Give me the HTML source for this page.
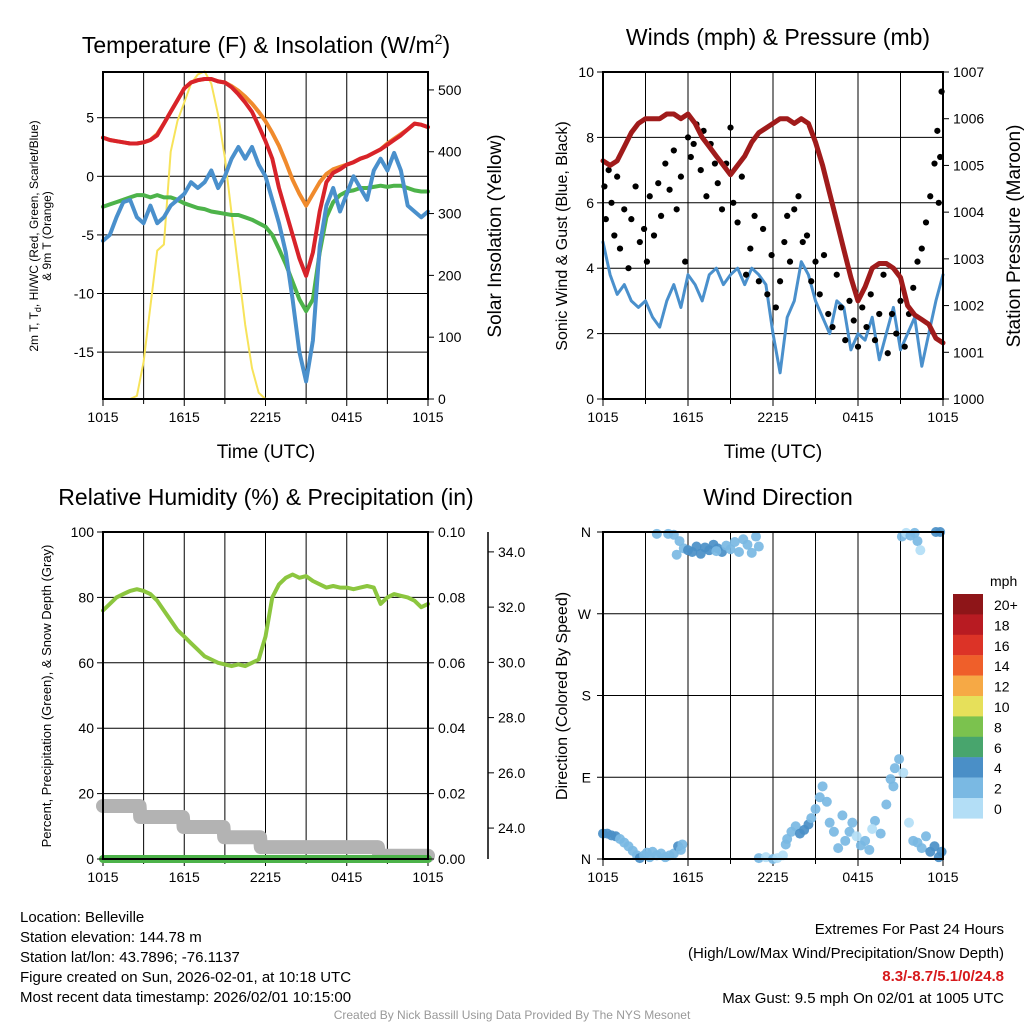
<!DOCTYPE html>
<html><head><meta charset="utf-8"><style>
html,body{margin:0;padding:0;background:#fff}
svg{display:block;font-family:"Liberation Sans",Arial,sans-serif}
</style></head><body>
<svg id="c" width="1024" height="1024" viewBox="0 0 1024 1024" xmlns="http://www.w3.org/2000/svg">
<rect x="0" y="0" width="1024" height="1024" fill="#fff"/>
<text x="266" y="53" font-size="23" text-anchor="middle">Temperature (F) &amp; Insolation (W/m<tspan font-size="14" dy="-9">2</tspan><tspan dy="9">)</tspan></text>
<text x="778" y="45" font-size="23" text-anchor="middle">Winds (mph) &amp; Pressure (mb)</text>
<text x="266" y="505" font-size="23" text-anchor="middle">Relative Humidity (%) &amp; Precipitation (in)</text>
<text x="778" y="505" font-size="23" text-anchor="middle">Wind Direction</text>
<text x="266" y="458" font-size="19" text-anchor="middle">Time (UTC)</text>
<text x="773" y="458" font-size="19" text-anchor="middle">Time (UTC)</text>
<text transform="translate(38,236) rotate(-90)" font-size="12" text-anchor="middle">2m T, T<tspan font-size="9" dy="3">d</tspan><tspan dy="-3">,  HI/WC (Red, Green, Scarlet/Blue)</tspan></text>
<text transform="translate(51,236) rotate(-90)" font-size="12" text-anchor="middle">&amp; 9m T (Orange)</text>
<text transform="translate(501,236) rotate(-90)" font-size="19" text-anchor="middle">Solar Insolation (Yellow)</text>
<text transform="translate(567,236) rotate(-90)" font-size="16" text-anchor="middle">Sonic Wind &amp; Gust (Blue, Black)</text>
<text transform="translate(1020,236) rotate(-90)" font-size="19" text-anchor="middle">Station Pressure (Maroon)</text>
<text transform="translate(51,696) rotate(-90)" font-size="13" text-anchor="middle">Percent, Precipitation (Green), &amp; Snow Depth (Gray)</text>
<text transform="translate(567,696) rotate(-90)" font-size="16" text-anchor="middle">Direction (Colored By Speed)</text>
<g font-size="15">
<text x="20" y="922">Location: Belleville</text>
<text x="20" y="942">Station elevation: 144.78 m</text>
<text x="20" y="962">Station lat/lon: 43.7896; -76.1137</text>
<text x="20" y="982">Figure created on Sun, 2026-02-01, at 10:18 UTC</text>
<text x="20" y="1002">Most recent data timestamp: 2026/02/01 10:15:00</text>
</g>
<g font-size="15" text-anchor="end">
<text x="1004" y="934">Extremes For Past 24 Hours</text>
<text x="1004" y="958">(High/Low/Max Wind/Precipitation/Snow Depth)</text>
<text x="1004" y="981" fill="#d7191c" font-weight="bold">8.3/-8.7/5.1/0/24.8</text>
<text x="1004" y="1003">Max Gust: 9.5 mph On 02/01 at 1005 UTC</text>
</g>
<text x="512" y="1019" font-size="12" fill="#999" text-anchor="middle">Created By Nick Bassill Using Data Provided By The NYS Mesonet</text>
</svg>
<script>
// ---------- data ----------
const halfHours = [0,0.5,1,1.5,2,2.5,3,3.5,4,4.5,5,5.5,6,6.5,7,7.5,8,8.5,9,9.5,10,10.5,11,11.5,12,12.5,13,13.5,14,14.5,15,15.5,16,16.5,17,17.5,18,18.5,19,19.5,20,20.5,21,21.5,22,22.5,23,23.5,24];
const xTickLabels = ["1015","1615","2215","0415","1015"];
const tempRed = [3.3,3.1,3.0,2.9,2.8,2.8,2.9,3.1,3.5,4.5,5.5,6.5,7.5,8.0,8.2,8.3,8.3,8.1,8.0,7.6,7.0,6.3,5.5,4.3,3.0,1.5,-1.0,-3.0,-5.0,-7.0,-8.5,-6.5,-3.0,-0.5,0.3,0.6,1.0,1.2,1.5,1.7,2.0,2.3,2.7,3.1,3.5,4.0,4.5,4.4,4.2];
const tempOrange = [3.3,3.1,3.0,2.9,2.8,2.8,2.9,3.1,3.6,4.5,5.5,6.5,7.5,8.0,8.2,8.3,8.3,8.1,8.0,7.7,7.3,6.8,6.2,5.5,4.7,3.7,2.6,1.2,-0.3,-1.5,-2.5,-1.5,-0.5,0.2,0.6,0.8,1.0,1.2,1.5,1.7,2.0,2.3,2.8,3.2,3.6,4.0,4.5,4.4,4.2];
const tempDew = [-2.6,-2.4,-2.2,-2.0,-1.8,-1.6,-1.6,-1.8,-1.6,-1.8,-1.8,-2.0,-2.3,-2.5,-2.7,-2.8,-3.0,-3.1,-3.2,-3.3,-3.3,-3.5,-3.7,-4.0,-4.3,-5.0,-6.2,-7.5,-9.0,-10.5,-11.5,-10.5,-6.5,-3.5,-2.2,-1.6,-1.3,-1.2,-1.0,-1.0,-0.9,-0.8,-0.9,-0.8,-0.8,-1.0,-1.2,-1.3,-1.3];
const tempWC = [-5.5,-5.0,-3.5,-2.2,-2.0,-3.5,-4.0,-2.5,-4.0,-3.5,-2.5,-2.0,-1.5,-0.5,-1.0,-0.5,0.5,-1.0,0.0,1.5,2.5,1.5,2.5,1.0,0.0,-2.0,-4.0,-6.5,-10.5,-15.0,-17.5,-14.0,-6.0,-2.5,-1.0,-3.0,-1.5,0.0,-1.0,-2.0,0.5,1.5,0.5,2.0,0.5,-2.5,-3.0,-3.5,-3.0];
const solar = [0,0,0,0,0,5,60,150,240,250,400,450,480,510,525,530,510,460,390,300,210,120,50,10,0,0,0,0,0,0,0,0,0,0,0,0,0,0,0,0,0,0,0,0,0,0,0,0,0];
const tempTicks = [5,0,-5,-10,-15];
const solarTicks = [0,100,200,300,400,500];
const windSpeed = [4.8,3.8,3.2,3.5,3.0,2.8,3.0,2.5,2.2,3.0,3.5,2.8,3.8,3.5,3.0,3.8,4.0,3.5,3.8,4.0,3.5,4.0,3.8,3.5,2.0,0.8,2.5,3.0,4.2,3.8,3.0,2.5,2.0,3.0,2.8,1.5,2.0,1.8,2.5,1.2,2.0,2.8,1.5,2.0,2.5,1.0,2.0,3.0,3.8];
const pressure = [1005.1,1005.0,1005.1,1005.4,1005.7,1005.9,1006.0,1006.0,1006.0,1006.1,1006.1,1006.0,1006.1,1005.9,1005.6,1005.4,1005.2,1005.0,1004.8,1005.0,1005.2,1005.5,1005.7,1005.8,1005.9,1006.0,1006.0,1005.9,1006.0,1005.9,1005.5,1005.0,1004.4,1003.8,1003.2,1002.6,1002.1,1002.4,1002.8,1002.9,1002.9,1002.8,1002.6,1002.0,1001.8,1001.7,1001.6,1001.3,1001.2];
const gustTimes = [0.1,0.2,0.4,0.6,0.8,1.0,1.2,1.5,1.8,2.0,2.3,2.6,2.9,3.1,3.3,3.6,3.9,4.1,4.4,4.7,5.0,5.2,5.5,5.8,6.0,6.2,6.4,6.6,6.9,7.1,7.3,7.6,7.9,8.1,8.4,8.7,9.0,9.2,9.5,9.8,10.1,10.4,10.7,11.0,11.3,11.6,11.9,12.2,12.5,12.8,13.0,13.2,13.5,13.8,14.1,14.4,14.7,15.0,15.3,15.6,15.9,16.2,16.5,16.8,17.1,17.4,17.7,18.0,18.3,18.6,18.9,19.2,19.5,19.8,20.1,20.4,20.7,21.0,21.3,21.6,21.9,22.2,22.5,22.8,23.1,23.4,23.6,23.8,23.9,23.7];
const gustValues = [6.5,5.5,7.0,6.0,5.0,6.8,4.6,5.8,4.0,5.5,6.5,4.8,5.2,4.2,6.2,5.0,6.6,5.6,7.2,6.4,7.6,5.8,6.8,4.2,8.0,7.4,7.8,8.4,7.0,8.2,6.2,7.8,7.2,6.6,5.8,7.2,8.3,6.0,5.4,6.8,3.8,4.6,5.6,3.6,5.2,3.2,4.4,2.8,3.6,4.8,5.6,4.2,5.8,6.2,4.8,5.0,3.6,4.2,3.2,4.4,2.6,2.2,3.8,2.8,1.8,3.0,2.4,1.6,2.8,2.2,3.2,1.8,2.6,3.8,1.4,2.6,2.0,3.0,1.6,2.6,3.4,4.2,4.6,5.4,6.2,7.2,8.2,7.4,9.4,6.0];
const windTicks = [0,2,4,6,8,10];
const pressTicks = [1000,1001,1002,1003,1004,1005,1006,1007];
const rh = [76,78,80,81,82,82.5,82,81,79,76,73,70,68,66,64,62,61,60,59.5,59,59.5,59,60,61,68,80,84,86,87,86,86.5,85,84,83,83.5,83,83,82.5,83,83.5,83,78,80,81,80.5,80,79,77,78];
const snowTimes = [0,2.7,2.75,5.9,5.95,8.9,8.95,11.6,11.65,20.3,20.4,24];
const snowDepth = [24.8,24.8,24.4,24.4,24.04,24.04,23.67,23.67,23.31,23.31,23.0,23.0];
const precipTimes = [0,24];
const precip = [0,0];
const rhTicks = [0,20,40,60,80,100];
const precipTicks = ["0.00","0.02","0.04","0.06","0.08","0.10"];
const snowTicks = [24,26,28,30,32,34];
const dirTimes = [0.0,0.3,0.6,0.9,1.2,1.5,1.8,2.1,2.4,2.6,2.9,3.1,3.3,3.5,3.8,4.1,4.4,4.7,5.0,5.3,5.5,5.6,3.8,4.6,5.0,5.4,5.7,6.0,6.3,6.6,6.9,7.2,7.5,7.8,8.1,8.4,8.7,9.0,9.3,9.6,9.9,10.2,10.5,10.8,11.0,5.2,8.0,11.0,11.5,12.0,12.3,12.7,12.9,13.0,13.3,13.6,13.9,14.2,14.5,14.7,15.0,15.3,15.5,15.8,16.0,16.3,16.6,16.9,17.1,17.4,17.6,17.9,18.2,18.5,18.8,19.2,19.6,20.0,20.3,20.6,20.9,21.2,21.6,21.9,22.2,22.5,22.8,23.1,23.4,23.7,23.9,20.5,19.0,21.1,21.4,21.7,22.0,22.2,22.4,23.5,23.8];
const dirValues = [28,28,26,25,22,18,14,9,4,1,4,7,2,8,4,6,2,4,6,14,10,16,358,358,357,350,342,340,338,344,336,343,340,346,342,338,345,341,349,338,352,346,337,355,344,335,339,1,2,0,1,4,16,22,30,36,28,32,38,45,55,68,80,63,40,30,12,48,20,30,40,25,15,20,10,42,28,60,88,100,110,95,40,20,18,12,25,8,14,2,8,80,33,355,359,356,359,350,340,360,360];
const dirSpeeds = [4.5,4.5,5,4.2,3,3,3,3,2.5,4.5,3,2.5,3,3,2.5,3,3,2.5,3,4.5,3,3,2.5,2.5,3,2.5,3,4.5,4.5,4.5,4.5,4.5,4.5,4.5,4.5,4.5,3,3,3,3,3,3,3,3,3,3,3,2.5,1.5,3,1.5,1.5,2.5,3,3,3,4.5,4.5,4.5,3,3,3,3,3,3,3,3,3,3,2.5,3,1.5,3,3,3,3,3,3,3,3,3,1.5,1.5,2,3,3,3,4.5,4.5,4.5,4.5,3,1.5,3,1.5,3,3,3,1.5,4.5,4.5];
const dirTickLabels = ["N","E","S","W","N"];
const speedBins = ["20+","18","16","14","12","10","8","6","4","2","0"];
const speedColors = ["#8e1518","#b81b22","#dc3327","#ef5f2a","#f6a945","#e6e05a","#7bc24e","#48a56d","#4a8fc7","#7ab9e3","#b3def6"];

// ---------- helpers ----------
const NS = "http://www.w3.org/2000/svg";
const svg = document.getElementById("c");
function mk(tag, attrs, parent){ const el=document.createElementNS(NS,tag); for(const k in attrs) el.setAttribute(k,attrs[k]); (parent||svg).appendChild(el); return el; }
function lin(d0,d1,r0,r1){ return v => r0+(v-d0)/(d1-d0)*(r1-r0); }
function pts(xs,ys,fx,fy){ return xs.map((t,i)=>fx(t).toFixed(1)+","+fy(ys[i]).toFixed(1)).join(" "); }

function frame(x0,y0,x1,y1,name,fx,hLines){
  const g = mk("g",{});
  
  
  for(let h=3; h<24; h+=3){
    const l = mk("line",{x1:fx(h),x2:fx(h),y1:y0,y2:y1,stroke:"#000","stroke-width":1},g);
    
    
  }
  hLines.forEach(y=>{
    const l = mk("line",{x1:x0,x2:x1,y1:y,y2:y,stroke:"#000","stroke-width":1},g);
    
    
  });
  for(let h=0; h<=24; h+=3){
    const t = mk("line",{x1:fx(h),x2:fx(h),y1:y1,y2:y1+(h%6===0?7:5),stroke:"#000","stroke-width":1},g);
    
    
  }
  xTickLabels.forEach((s,i)=>{
    const t = mk("text",{x:fx(i*6),y:y1+23,"font-size":14,"text-anchor":"middle"},g);
    t.textContent = s;
    
    
  });
  return g;
}
function border(x0,y0,x1,y1){
  const r = mk("rect",{x:x0,y:y0,width:x1-x0,height:y1-y0,fill:"none",stroke:"#000","stroke-width":2});
  
  
}
function yTicks(vals,fy,x,side,labels,name){
  vals.forEach((v,i)=>{
    const y = fy(v);
    const t = mk("line",{x1:x,x2:x+(side==="left"?-6:6),y1:y,y2:y,stroke:"#000","stroke-width":1});
    
    
    const l = mk("text",{x:x+(side==="left"?-9:10),y:y+5,"font-size":14,"text-anchor":side==="left"?"end":"start"});
    l.textContent = labels ? labels[i] : String(v);
    
    
  });
}
function line(xs,ys,fx,fy,color,w,name,op){
  const p = mk("polyline",{points:pts(xs,ys,fx,fy),fill:"none",stroke:color,"stroke-width":w,"stroke-linejoin":"round","stroke-linecap":"round",opacity:op||1});
  
  
  return p;
}

// ---------- panel 1: temperature ----------
{
  const fx = lin(0,24,103,428), fy = lin(-19.0,8.9,399,72), fs = lin(0,529,399,72);
  frame(103,72,428,399,"temp-grid",fx,tempTicks.map(fy));
  line(halfHours,solar,fx,fs,"#f7e35a",2,"solar-line");
  line(halfHours,tempOrange,fx,fy,"#f08a2c",4,"temp-9m-line");
  line(halfHours,tempDew,fx,fy,"#4db34a",4,"dewpoint-line");
  line(halfHours,tempWC,fx,fy,"#4a90cc",4,"windchill-line");
  line(halfHours,tempRed,fx,fy,"#d8232a",4,"temp-2m-line");
  border(103,72,428,399);
  yTicks(tempTicks,fy,103,"left",null,"temp-y");
  yTicks(solarTicks,fs,428,"right",null,"solar-y");
}
// ---------- panel 2: winds ----------
{
  const fx = lin(0,24,603,943), fy = lin(0,10,399,72), fp = lin(1000,1007,399,72);
  frame(603,72,943,399,"wind-grid",fx,[2,4,6,8].map(fy));
  line(halfHours,windSpeed,fx,fy,"#4a90cc",3,"wind-speed-line");
  gustTimes.forEach((t,i)=>{
    const c = mk("circle",{cx:fx(t),cy:fy(gustValues[i]),r:3.1,fill:"#000"});
    
    
  });
  line(halfHours,pressure,fx,fp,"#a01b1b",5,"pressure-line");
  border(603,72,943,399);
  yTicks(windTicks,fy,603,"left",null,"wind-y");
  yTicks(pressTicks,fp,943,"right",null,"pressure-y");
}
// ---------- panel 3: RH ----------
{
  const fx = lin(0,24,103,428), fy = lin(0,100,859,532), fpr = lin(0,0.1,859,532), fsn = lin(22.88,34.72,859,532);
  frame(103,532,428,859,"rh-grid",fx,[20,40,60,80].map(fy));
  line(snowTimes,snowDepth,fx,fsn,"#b3b3b3",14,"snow-depth-line");
  line(precipTimes,precip,fx,fpr,"#4db34a",8,"precip-line");
  line(halfHours,rh,fx,fy,"#8cc63f",4,"rh-line");
  border(103,532,428,859);
  yTicks(rhTicks,fy,103,"left",null,"rh-y");
  yTicks(precipTicks.map(Number),fpr,428,"right",precipTicks,"precip-y");
  const ax = mk("line",{x1:488,x2:488,y1:532,y2:859,stroke:"#000","stroke-width":1.5});
  
  
  yTicks(snowTicks,fsn,488,"right",snowTicks.map(v=>v.toFixed(1)),"snow-y");
}
// ---------- panel 4: direction ----------
{
  const fx = lin(0,24,603,943), fy = lin(0,360,859,532);
  frame(603,532,943,859,"dir-grid",fx,[90,180,270].map(fy));
  dirTimes.forEach((t,i)=>{
    const bin = Math.min(10,Math.floor(dirSpeeds[i]/2));
    const c = mk("circle",{cx:fx(t),cy:fy(dirValues[i]),r:5,fill:speedColors[10-bin],opacity:0.92});
    
    
  });
  border(603,532,943,859);
  dirTickLabels.forEach((s,i)=>{
    const y = fy(i*90);
    const t = mk("line",{x1:603,x2:597,y1:y,y2:y,stroke:"#000"});
    
    
    const l = mk("text",{x:591,y:y+5,"font-size":14,"text-anchor":"end"});
    l.textContent = s;
    
    
  });
  const u = mk("text",{x:990,y:586,"font-size":14});
  u.textContent = "mph";
  
  
  speedBins.forEach((s,i)=>{
    const y0 = 594 + i*20.4;
    const r = mk("rect",{x:953,y:y0,width:30,height:20.6,fill:speedColors[i]});
    
    
    const l = mk("text",{x:994,y:y0+16,"font-size":14});
    l.textContent = s;
    
    
  });
}
</script>
</body></html>
